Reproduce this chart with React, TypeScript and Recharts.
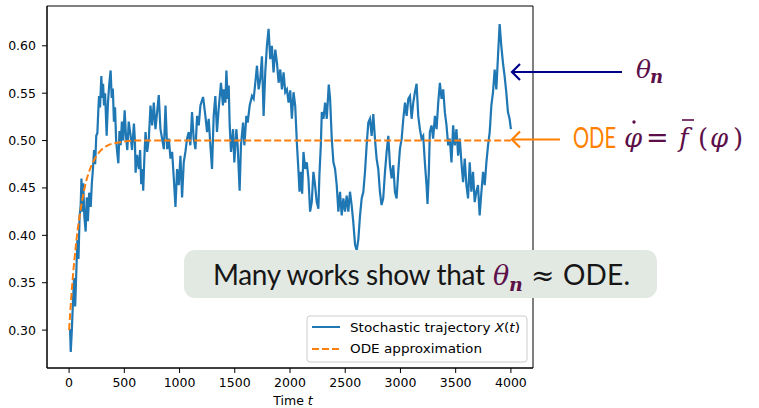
import { LineChart, Line, XAxis, YAxis, ReferenceArea } from "recharts";

// stochastic trajectory X(t)
const trajT = [
  0, 9, 15, 25, 35, 45, 55, 65, 75, 85, 95, 105, 112, 120, 128, 138, 150, 160, 170, 182,
  196, 206, 216, 226, 236, 246, 256, 264, 271, 280, 292, 300, 308, 316, 326, 340, 352, 364, 376, 386,
  396, 406, 416, 426, 436, 446, 456, 467, 478, 490, 503, 515, 527, 540, 557, 570, 587, 596, 602, 615,
  632, 643, 653, 663, 671, 681, 692, 707, 722, 737, 752, 767, 782, 797, 812, 827, 842, 858, 873, 888,
  903, 918, 933, 948, 963, 978, 993, 1008, 1023, 1038, 1053, 1068, 1083, 1098, 1113, 1128, 1144, 1159, 1174, 1189,
  1213, 1234, 1249, 1264, 1279, 1294, 1309, 1324, 1339, 1354, 1375, 1393, 1400, 1415, 1424, 1436, 1445, 1454, 1466, 1484,
  1496, 1514, 1526, 1544, 1556, 1575, 1587, 1605, 1617, 1635, 1656, 1671, 1686, 1701, 1716, 1731, 1746, 1761, 1776, 1791,
  1806, 1821, 1836, 1851, 1867, 1882, 1897, 1912, 1927, 1942, 1957, 1972, 1987, 2002, 2017, 2032, 2047, 2062, 2077, 2086,
  2098, 2110, 2122, 2137, 2152, 2167, 2182, 2197, 2212, 2227, 2242, 2257, 2266, 2279, 2288, 2303, 2318, 2333, 2351, 2363,
  2378, 2393, 2408, 2423, 2438, 2453, 2468, 2483, 2498, 2513, 2528, 2543, 2558, 2573, 2589, 2604, 2619, 2634, 2649, 2664,
  2679, 2694, 2709, 2724, 2739, 2754, 2769, 2784, 2799, 2814, 2829, 2844, 2860, 2875, 2890, 2905, 2920, 2935, 2950, 2965,
  2980, 2995, 3011, 3026, 3041, 3056, 3071, 3086, 3101, 3116, 3131, 3146, 3161, 3176, 3191, 3206, 3221, 3236, 3245, 3257,
  3266, 3281, 3296, 3312, 3327, 3342, 3357, 3372, 3387, 3402, 3417, 3432, 3447, 3462, 3477, 3492, 3507, 3522, 3537, 3552,
  3567, 3582, 3597, 3612, 3627, 3642, 3657, 3672, 3687, 3702, 3717, 3733, 3748, 3763, 3778, 3793, 3808, 3823, 3838, 3853,
  3868, 3883, 3898, 3913, 3928, 3943, 3958, 3973, 3988, 4000,
];
const trajX = [
  0.300, 0.300, 0.277, 0.300, 0.330, 0.355, 0.325, 0.360, 0.395, 0.375, 0.420, 0.432, 0.460, 0.425, 0.455, 0.420, 0.404, 0.440, 0.415, 0.445,
  0.430, 0.455, 0.470, 0.490, 0.475, 0.505, 0.508, 0.530, 0.547, 0.535, 0.568, 0.545, 0.560, 0.537, 0.550, 0.505, 0.540, 0.560, 0.574, 0.545,
  0.555, 0.520, 0.535, 0.500, 0.487, 0.476, 0.510, 0.495, 0.520, 0.500, 0.532, 0.505, 0.490, 0.520, 0.505, 0.490, 0.518, 0.500, 0.466, 0.485,
  0.470, 0.490, 0.454, 0.470, 0.447, 0.480, 0.509, 0.488, 0.502, 0.537, 0.516, 0.540, 0.512, 0.530, 0.548, 0.512, 0.502, 0.491, 0.537, 0.491,
  0.502, 0.481, 0.488, 0.460, 0.430, 0.470, 0.453, 0.484, 0.440, 0.477, 0.488, 0.502, 0.509, 0.495, 0.530, 0.502, 0.491, 0.526, 0.516, 0.537,
  0.546, 0.526, 0.509, 0.523, 0.495, 0.470, 0.526, 0.547, 0.509, 0.533, 0.561, 0.537, 0.554, 0.540, 0.574, 0.544, 0.558, 0.516, 0.488, 0.512,
  0.477, 0.512, 0.495, 0.447, 0.495, 0.519, 0.495, 0.526, 0.519, 0.537, 0.547, 0.544, 0.561, 0.579, 0.554, 0.565, 0.589, 0.526, 0.572, 0.600,
  0.618, 0.586, 0.600, 0.572, 0.596, 0.582, 0.561, 0.575, 0.554, 0.572, 0.551, 0.554, 0.540, 0.553, 0.523, 0.551, 0.537, 0.498, 0.467, 0.446,
  0.467, 0.444, 0.488, 0.470, 0.477, 0.460, 0.425, 0.435, 0.467, 0.453, 0.435, 0.428, 0.463, 0.495, 0.530, 0.523, 0.540, 0.523, 0.559, 0.544,
  0.502, 0.477, 0.470, 0.453, 0.425, 0.446, 0.421, 0.439, 0.425, 0.442, 0.425, 0.446, 0.432, 0.414, 0.390, 0.384, 0.396, 0.421, 0.439, 0.446,
  0.467, 0.495, 0.519, 0.523, 0.505, 0.528, 0.502, 0.481, 0.470, 0.446, 0.432, 0.439, 0.467, 0.488, 0.505, 0.474, 0.460, 0.474, 0.446, 0.439,
  0.467, 0.491, 0.502, 0.523, 0.540, 0.526, 0.544, 0.547, 0.523, 0.540, 0.551, 0.560, 0.526, 0.512, 0.502, 0.505, 0.477, 0.453, 0.433, 0.467,
  0.509, 0.516, 0.502, 0.526, 0.512, 0.540, 0.561, 0.544, 0.554, 0.530, 0.516, 0.495, 0.502, 0.477, 0.516, 0.495, 0.512, 0.484, 0.502, 0.477,
  0.456, 0.481, 0.453, 0.439, 0.477, 0.446, 0.467, 0.435, 0.446, 0.453, 0.421, 0.446, 0.467, 0.453, 0.477, 0.495, 0.509, 0.537, 0.551, 0.575,
  0.554, 0.589, 0.623, 0.600, 0.582, 0.568, 0.551, 0.530, 0.523, 0.512,
];

// ODE approximation
const odeT = [0, 20, 40, 60, 80, 100, 125, 150, 175, 200, 250, 300, 350, 400, 450, 500, 600, 4000];
const odeX = [0.300, 0.335, 0.364, 0.388, 0.408, 0.424, 0.441, 0.455, 0.465, 0.473, 0.484, 0.491, 0.495, 0.497, 0.498, 0.499, 0.500, 0.500];

const xTicks = [0, 500, 1000, 1500, 2000, 2500, 3000, 3500, 4000];
const yTicks = [0.3, 0.35, 0.4, 0.45, 0.5, 0.55, 0.6];

const trajData = trajT.map((t, i) => ({ t, x: trajX[i] }));
const odeData = odeT.map((t, i) => ({ t, x: odeX[i] }));

const BLUE = "#1f77b4";
const ORANGE = "#ff7f0e";
const PURPLE = "#5c1049";
const tickStyle = { fill: "#000", fontSize: 12.5, fontFamily: "DejaVu Sans" };

export default function App() {
  return (
    <div style={{ position: "absolute", left: 0, top: 0, width: 759, height: 408, background: "#fff" }}>
      <LineChart width={759} height={408} margin={{ top: 6, right: 226, bottom: 0, left: 0 }}>
        <XAxis
          dataKey="t"
          type="number"
          domain={[-200, 4200]}
          ticks={xTicks}
          allowDataOverflow
          height={40}
          tickSize={5}
          tickMargin={5}
          tick={tickStyle}
          stroke="#000"
          tickLine={{ stroke: "#000" }}
        />
        <YAxis
          type="number"
          domain={[0.26, 0.642]}
          ticks={yTicks}
          allowDataOverflow
          width={47}
          tickSize={5}
          tickMargin={6}
          tick={tickStyle}
          tickFormatter={(v: number) => v.toFixed(2)}
          stroke="#000"
          tickLine={{ stroke: "#000" }}
        />
        <Line
          data={trajData}
          dataKey="x"
          stroke={BLUE}
          strokeWidth={2.2}
          dot={false}
          isAnimationActive={false}
        />
        <Line
          data={odeData}
          dataKey="x"
          type="monotone"
          stroke={ORANGE}
          strokeWidth={2}
          strokeDasharray="7 3"
          dot={false}
          isAnimationActive={false}
        />
        <ReferenceArea
          x1={-200}
          x2={4200}
          y1={0.26}
          y2={0.642}
          fill="none"
          fillOpacity={0}
          stroke="#000"
          strokeWidth={1}
          ifOverflow="visible"
        />
      </LineChart>

      <svg
        width={759}
        height={408}
        style={{ position: "absolute", left: 0, top: 0, pointerEvents: "none" }}
      >
        <text x={293} y={405} textAnchor="middle" fontFamily="DejaVu Sans" fontSize={12.5} fill="#000">
          Time <tspan fontStyle="italic">t</tspan>
        </text>

        {/* legend */}
        <rect x={307} y={316} width={220} height={46} rx={3} fill="#fff" fillOpacity={0.8} stroke="#cccccc" />
        <line x1={312} x2={340} y1={327} y2={327} stroke={BLUE} strokeWidth={2} />
        <text x={350} y={331.5} fontFamily="DejaVu Sans" fontSize={11.5} fill="#000" textLength={170} lengthAdjust="spacingAndGlyphs">
          Stochastic trajectory <tspan fontStyle="italic">X</tspan>(<tspan fontStyle="italic">t</tspan>)
        </text>
        <line x1={312} x2={340} y1={349} y2={349} stroke={ORANGE} strokeWidth={2} strokeDasharray="7 3" />
        <text x={350} y={353} fontFamily="DejaVu Sans" fontSize={11.5} fill="#000" textLength={132} lengthAdjust="spacingAndGlyphs">
          ODE approximation
        </text>

        {/* annotation box */}
        <rect x={184} y={250} width={473} height={48} rx={11} fill="#e2e9e3" />
        <text x={213} y={285} fontFamily="Lato" fontSize={28} fill="#161616" textLength={272} lengthAdjust="spacing">
          Many works show that
        </text>
        <text x={493} y={285} fontFamily="DejaVu Serif" fontStyle="italic" fontSize={27} fill={PURPLE}>θ</text>
        <text x={509} y={291} fontFamily="DejaVu Serif" fontStyle="italic" fontWeight="bold" fontSize={19} fill={PURPLE}>n</text>
        <text x={531} y={285} fontFamily="DejaVu Serif" fontSize={28} fill="#161616">≈</text>
        <text x={563} y={285} fontFamily="Lato" fontSize={28} fill="#161616" textLength={67} lengthAdjust="spacing">
          ODE.
        </text>

        {/* arrows */}
        <line x1={622} x2={512} y1={72} y2={72} stroke="#00008b" strokeWidth={2.2} />
        <polyline points="520,64 512,72 520,80" fill="none" stroke="#00008b" strokeWidth={2.2} />
        <line x1={560} x2={512} y1={139.5} y2={139.5} stroke="#ff8000" strokeWidth={2.2} />
        <polyline points="520,131.5 512,139.5 520,147.5" fill="none" stroke="#ff8000" strokeWidth={2.2} />

        {/* labels */}
        <text x={636} y={78} fontFamily="DejaVu Serif" fontStyle="italic" fontSize={25} fill={PURPLE}>θ</text>
        <text x={650} y={83} fontFamily="DejaVu Serif" fontStyle="italic" fontWeight="bold" fontSize={18} fill={PURPLE}>n</text>

        <text transform="translate(573,148) scale(0.72,1)" fontFamily="Lato" fontSize={28} fill="#ff8000">ODE</text>
        <text x={624} y={147} fontFamily="DejaVu Serif" fontStyle="italic" fontSize={26} fill={PURPLE}>φ</text>
        <circle cx={634} cy={122} r={1.7} fill={PURPLE} />
        <text x={646} y={147} fontFamily="DejaVu Serif" fontSize={27} fill={PURPLE}>=</text>
        <text x={679} y={147} fontFamily="DejaVu Serif" fontStyle="italic" fontSize={26} fill={PURPLE}>f</text>
        <line x1={682} x2={694} y1={120} y2={120} stroke={PURPLE} strokeWidth={1.6} />
        <text x={698} y={147} fontFamily="DejaVu Serif" fontSize={26} fill={PURPLE}>(</text>
        <text x={710} y={147} fontFamily="DejaVu Serif" fontStyle="italic" fontSize={26} fill={PURPLE}>φ</text>
        <text x={733} y={147} fontFamily="DejaVu Serif" fontSize={26} fill={PURPLE}>)</text>
      </svg>
    </div>
  );
}
